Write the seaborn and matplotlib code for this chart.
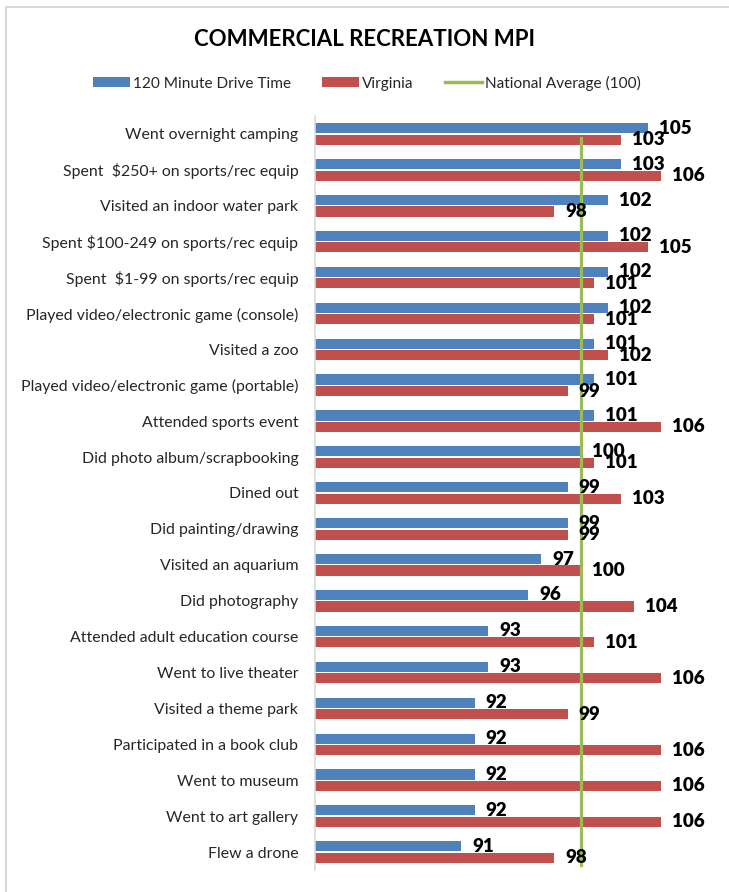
import pandas as pd
import seaborn as sns
import matplotlib.pyplot as plt
from matplotlib.lines import Line2D
from matplotlib.patches import Patch

# Data
categories = [
    "Went overnight camping",
    "Spent  $250+ on sports/rec equip",
    "Visited an indoor water park",
    "Spent $100-249 on sports/rec equip",
    "Spent  $1-99 on sports/rec equip",
    "Played video/electronic game (console)",
    "Visited a zoo",
    "Played video/electronic game (portable)",
    "Attended sports event",
    "Did photo album/scrapbooking",
    "Dined out",
    "Did painting/drawing",
    "Visited an aquarium",
    "Did photography",
    "Attended adult education course",
    "Went to live theater",
    "Visited a theme park",
    "Participated in a book club",
    "Went to museum",
    "Went to art gallery",
    "Flew a drone",
]
drive_time = [105, 103, 102, 102, 102, 102, 101, 101, 101, 100, 99, 99, 97, 96, 93, 93, 92, 92, 92, 92, 91]
virginia = [103, 106, 98, 105, 101, 101, 102, 99, 106, 101, 103, 99, 100, 104, 101, 106, 99, 106, 106, 106, 98]
series_names = ["120 Minute Drive Time", "Virginia"]
national_avg = 100

blue, red, green = "#4F81BD", "#C0504D", "#9BBB59"

df = pd.DataFrame({
    "Activity": categories * 2,
    "MPI": drive_time + virginia,
    "Series": [series_names[0]] * len(categories) + [series_names[1]] * len(categories),
})

plt.rcParams["font.family"] = ["Lato", "DejaVu Sans"]

fig = plt.figure(figsize=(7.29, 8.92), dpi=100)
ax = fig.add_axes([315 / 729, (892 - 870) / 892, (714 - 315) / 729, (870 - 116) / 892])

sns.barplot(data=df, y="Activity", x="MPI", hue="Series", orient="h",
            palette=[blue, red], width=0.64, gap=0.12, ax=ax, legend=False,
            saturation=1)

n = len(categories)
ax.plot([national_avg, national_avg], [0.1, n - 0.65], color=green, lw=2.3, zorder=4)

# value labels
for container in ax.containers:
    labels = ax.bar_label(container, padding=8, fontsize=13.5, fontweight="heavy", color="black")
    for t in labels:
        t.set_zorder(6)

ax.set_xlim(80, 110)
ax.set_ylim(n - 0.5, -0.5)
ax.set_xlabel("")
ax.set_ylabel("")
ax.set_xticks([])
ax.tick_params(axis="y", length=0, pad=12, labelsize=11.4, labelcolor="#262626")
for s in ["top", "right", "bottom"]:
    ax.spines[s].set_visible(False)
ax.spines["left"].set_color("#D9D9D9")
ax.spines["left"].set_linewidth(1.2)

fig.text(365 / 729, 1 - 40 / 892, "COMMERCIAL RECREATION MPI", ha="center", va="center",
         fontsize=16, fontweight="bold", color="black")

handles = [
    Patch(facecolor=blue, edgecolor="none"),
    Patch(facecolor=red, edgecolor="none"),
    Line2D([0], [0], color=green, lw=2.5),
]
fig.legend(handles, series_names + ["National Average (100)"], loc="center",
           bbox_to_anchor=(367 / 729, 1 - 83 / 892), ncol=3, frameon=False,
           fontsize=11.1, handlelength=2.4, handleheight=0.55, handletextpad=0.2,
           columnspacing=2.0, labelcolor="#262626")

# light frame on top/left
fig.add_artist(Line2D([6 / 729, 6 / 729], [0, 1 - 7 / 892], transform=fig.transFigure, color="#D9D9D9", lw=1.5))
fig.add_artist(Line2D([6 / 729, 1], [1 - 7 / 892, 1 - 7 / 892], transform=fig.transFigure, color="#D9D9D9", lw=1.5))

fig.savefig("out.png", dpi=100)
